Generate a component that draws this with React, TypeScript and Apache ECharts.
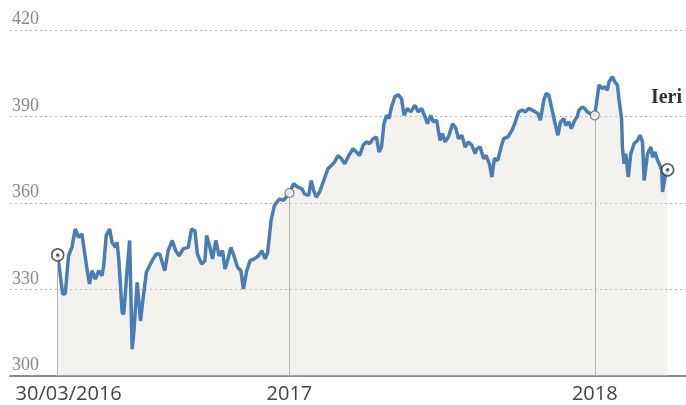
import React, { useEffect, useRef } from 'react';
import * as echarts from 'echarts';

const dates = [
  '2016-03-30','2016-04-05','2016-04-08','2016-04-12','2016-04-16','2016-04-20','2016-04-24','2016-04-28','2016-04-30','2016-05-04',
  '2016-05-07','2016-05-10','2016-05-14','2016-05-18','2016-05-22','2016-05-24','2016-05-27','2016-05-31','2016-06-03','2016-06-07',
  '2016-06-09','2016-06-11','2016-06-15','2016-06-17','2016-06-21','2016-06-24','2016-06-27','2016-06-29','2016-07-03','2016-07-07',
  '2016-07-10','2016-07-14','2016-07-18','2016-07-22','2016-07-26','2016-07-30','2016-08-05','2016-08-09','2016-08-14','2016-08-18',
  '2016-08-22','2016-08-27','2016-09-02','2016-09-06','2016-09-10','2016-09-13','2016-09-18','2016-09-22','2016-09-24','2016-09-28',
  '2016-10-01','2016-10-05','2016-10-09','2016-10-13','2016-10-16','2016-10-19','2016-10-23','2016-10-26','2016-10-31','2016-11-04',
  '2016-11-07','2016-11-11','2016-11-15','2016-11-20','2016-11-25','2016-11-29','2016-12-03','2016-12-06','2016-12-10','2016-12-14',
  '2016-12-20','2016-12-25','2016-12-28','2017-01-01','2017-01-06','2017-01-11','2017-01-16','2017-01-19','2017-01-24','2017-01-27',
  '2017-01-30','2017-02-02','2017-02-06','2017-02-11','2017-02-16','2017-02-20','2017-02-24','2017-02-28','2017-03-04','2017-03-08',
  '2017-03-13','2017-03-18','2017-03-22','2017-03-26','2017-03-30','2017-04-03','2017-04-07','2017-04-11','2017-04-15','2017-04-18',
  '2017-04-21','2017-04-24','2017-04-27','2017-04-30','2017-05-03','2017-05-07','2017-05-11','2017-05-15','2017-05-18','2017-05-22',
  '2017-05-26','2017-05-31','2017-06-04','2017-06-08','2017-06-12','2017-06-15','2017-06-19','2017-06-22','2017-06-26','2017-06-30',
  '2017-07-03','2017-07-06','2017-07-10','2017-07-15','2017-07-19','2017-07-22','2017-07-26','2017-07-30','2017-08-03','2017-08-07',
  '2017-08-11','2017-08-13','2017-08-17','2017-08-21','2017-08-24','2017-08-28','2017-08-31','2017-09-03','2017-09-07','2017-09-11',
  '2017-09-14','2017-09-19','2017-09-24','2017-09-28','2017-10-02','2017-10-06','2017-10-10','2017-10-14','2017-10-18','2017-10-22',
  '2017-10-25','2017-10-28','2017-11-01','2017-11-04','2017-11-07','2017-11-11','2017-11-15','2017-11-18','2017-11-21','2017-11-25',
  '2017-11-27','2017-12-01','2017-12-04','2017-12-08','2017-12-11','2017-12-13','2017-12-17','2017-12-20','2017-12-23','2017-12-27',
  '2018-01-01','2018-01-04','2018-01-06','2018-01-10','2018-01-13','2018-01-16','2018-01-18','2018-01-22','2018-01-25','2018-01-28',
  '2018-01-30','2018-02-02','2018-02-03','2018-02-05','2018-02-07','2018-02-10','2018-02-13','2018-02-17','2018-02-21','2018-02-24',
  '2018-02-27','2018-03-01','2018-03-05','2018-03-09','2018-03-11','2018-03-14','2018-03-17','2018-03-19','2018-03-22','2018-03-23',
  '2018-03-26','2018-03-29'
];

const values = [
  342.0,328.4,328.5,341.7,344.6,351.0,348.1,349.3,345.2,337.1,
  331.9,336.5,333.6,336.5,334.8,338.3,348.7,351.0,346.4,344.6,
  346.4,340.6,322.0,321.5,337.1,347.0,309.3,315.1,332.5,319.1,
  326.7,336.0,338.3,340.6,342.3,342.3,336.5,343.5,347.0,343.5,
  341.7,344.1,344.6,351.0,350.4,342.3,338.8,340.0,348.7,344.6,
  340.6,347.0,341.7,343.5,337.1,340.0,344.6,342.3,337.7,336.5,
  330.2,336.5,340.0,340.6,341.7,343.5,340.6,342.9,353.9,359.1,
  361.4,360.9,362.0,363.5,366.7,365.5,364.9,363.2,362.6,367.8,
  364.3,362.0,363.8,367.8,371.9,373.0,374.2,376.5,375.4,373.6,
  376.5,378.8,377.7,376.5,380.0,381.2,380.6,382.3,382.9,377.7,
  379.4,387.5,390.4,389.3,393.3,396.8,397.6,396.2,390.4,392.8,
  391.6,393.9,391.6,392.8,389.9,387.5,390.4,388.1,388.7,381.7,
  384.1,381.2,382.9,387.5,385.8,382.3,383.5,379.4,381.2,380.0,
  377.1,378.8,379.4,375.4,376.5,373.6,369.0,375.4,374.8,379.4,
  382.3,382.9,385.2,388.1,391.6,392.2,391.6,392.8,392.2,391.6,
  391.0,388.7,395.7,398.0,397.4,392.2,387.0,383.5,388.1,389.3,
  387.0,388.1,385.8,388.7,389.9,392.2,393.3,392.8,391.6,391.0,
  390.4,396.8,400.9,399.7,400.3,399.1,402.0,403.8,402.0,400.9,
  395.7,389.3,379.4,373.6,377.1,369.0,377.1,380.6,381.7,383.5,
  381.2,367.8,377.1,379.4,375.9,377.7,374.8,373.6,371.3,363.8,
  369.0,371.5
];

const yMin = 300;
const yMax = 420;
const yStep = 30;
const axisStart = '2016-02-02';
const axisEnd = '2018-04-20';
const xTickDates = ['2016-03-30', '2017-01-01', '2018-01-01'];
const xTickLabels = ['30/03/2016', '2017', '2018'];
const yearMarkDates = ['2017-01-01', '2018-01-01'];
const endLabel = 'Ieri';

const ts = (d: string) => +echarts.time.parse(d);

export default function App() {
  const ref = useRef<HTMLDivElement>(null);
  useEffect(() => {
    const chart = echarts.init(ref.current!, null, { renderer: 'svg' });
    const xs = dates.map(ts);
    const data = xs.map((x, i) => [x, values[i]]);
    const last = dates.length - 1;
    const tickTs = xTickDates.map(ts);
    const yearIdx = yearMarkDates.map((d) => dates.indexOf(d));
    const dropIdx = [0, ...yearIdx];
    const ringPts = [[xs[0], values[0]], [xs[last], values[last]]];
    const hollowPts = yearIdx.map((i) => [xs[i], values[i]]);

    chart.setOption({
      animation: false,
      grid: { left: 10, right: 0, top: 30, bottom: 29 },
      xAxis: {
        type: 'value',
        min: ts(axisStart),
        max: ts(axisEnd),
        axisLine: { show: true, onZero: false, lineStyle: { color: '#8c8c8c', width: 2 } },
        axisTick: { show: false },
        splitLine: { show: false },
        axisLabel: {
          customValues: tickTs,
          showMinLabel: true,
          showMaxLabel: true,
          hideOverlap: false,
          margin: 6,
          fontFamily: 'Open Sans',
          fontSize: 20,
          color: '#444',
          formatter: (v: number) => {
            const i = tickTs.findIndex((t) => Math.abs(t - v) < 3600000);
            if (i === 0) return '{first|' + xTickLabels[0] + '}';
            return i >= 0 ? xTickLabels[i] : '';
          },
          rich: {
            first: { padding: [0, 0, 0, 22], fontFamily: 'Open Sans', fontSize: 20, color: '#444' },
          },
        },
      },
      yAxis: {
        type: 'value',
        min: yMin,
        max: yMax,
        interval: yStep,
        axisLine: { show: false },
        axisTick: { show: false },
        splitLine: { show: true, lineStyle: { color: '#b3b3b3', type: [2, 3], width: 1 } },
        axisLabel: {
          inside: true,
          align: 'left',
          verticalAlign: 'bottom',
          margin: 2,
          padding: [0, 0, 3, 0],
          fontFamily: 'Liberation Serif',
          fontSize: 18,
          color: '#888',
        },
      },
      series: [
        {
          type: 'line',
          data,
          showSymbol: false,
          symbol: 'none',
          lineStyle: { color: '#4a7db3', width: 3.5 },
          areaStyle: { color: 'rgba(214,210,202,0.42)', origin: 'start' },
          z: 2,
          markLine: {
            silent: true,
            symbol: ['none', 'none'],
            label: { show: false },
            lineStyle: { color: '#b8b8b8', width: 1, type: 'solid' },
            data: dropIdx.map((i) => [
              { coord: [xs[i], values[i]] },
              { coord: [xs[i], yMin] },
            ]),
          },
        },
        {
          type: 'scatter',
          data: hollowPts,
          symbol: 'circle',
          symbolSize: 9,
          itemStyle: { color: '#fff', borderColor: '#666', borderWidth: 1.2 },
          z: 5,
          silent: true,
        },
        {
          type: 'scatter',
          data: ringPts,
          symbol: 'circle',
          symbolSize: 12,
          itemStyle: { color: '#fff', borderColor: '#333', borderWidth: 1.6 },
          z: 5,
          silent: true,
        },
        {
          type: 'scatter',
          data: ringPts,
          symbol: 'circle',
          symbolSize: 3.5,
          itemStyle: { color: '#333' },
          z: 6,
          silent: true,
        },
      ],
      graphic: [
        {
          type: 'text',
          right: 4,
          top: 86,
          style: {
            text: endLabel,
            fill: '#333',
            font: 'bold 20px "Liberation Serif"',
          },
        },
      ],
    });
    return () => chart.dispose();
  }, []);
  return (
    <div
      ref={ref}
      style={{ position: 'fixed', left: 0, top: 0, width: 686, height: 405 }}
    />
  );
}
